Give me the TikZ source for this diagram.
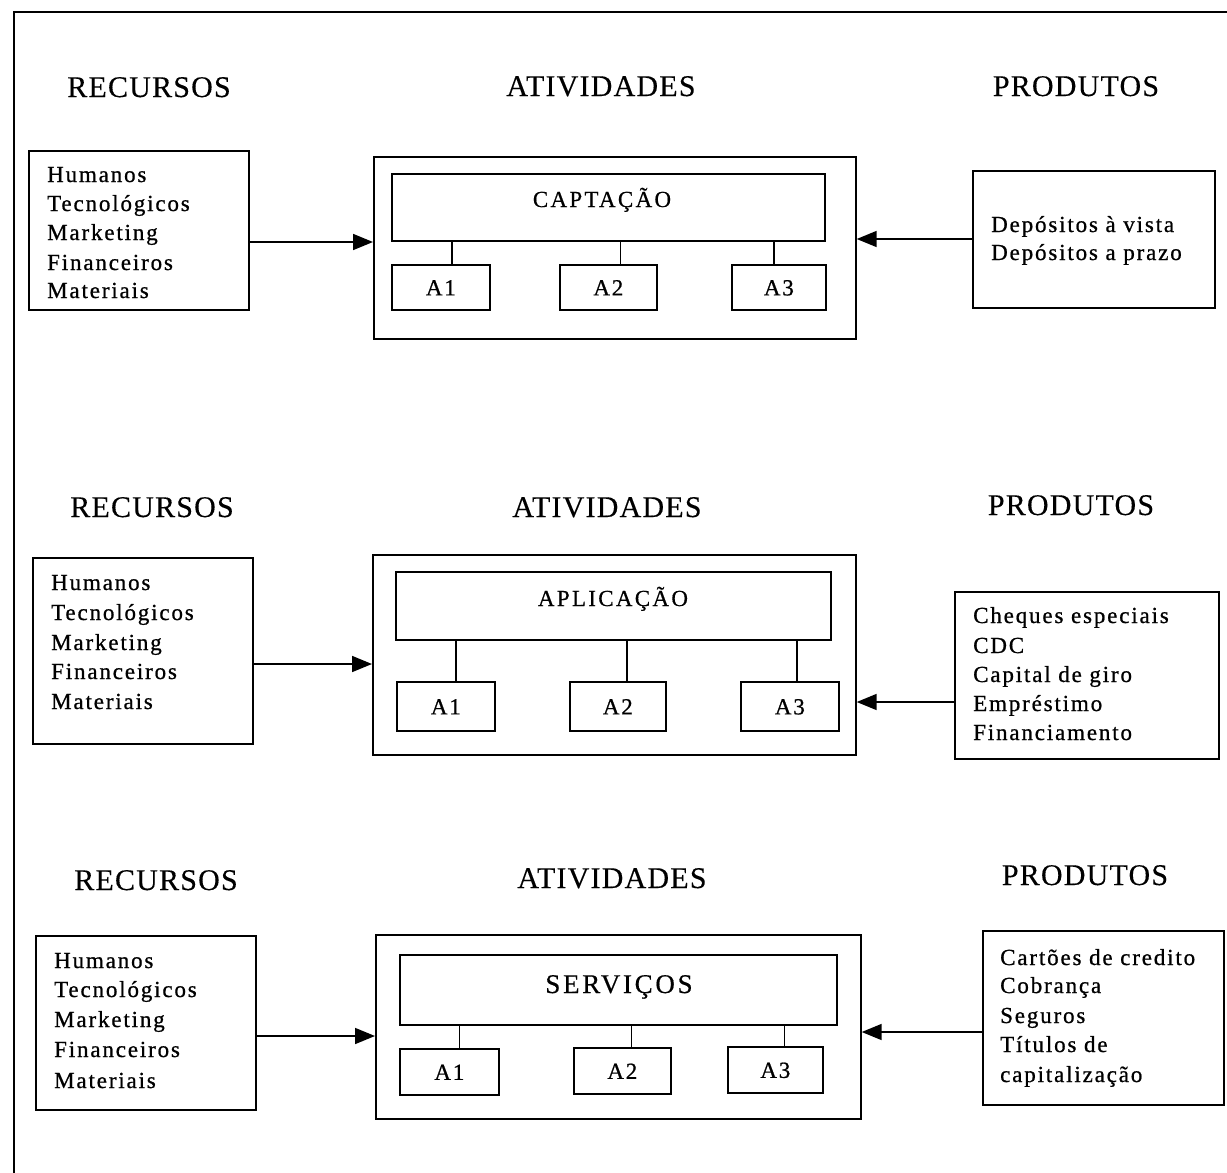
\documentclass[tikz,border=0pt]{standalone}
\usepackage{fontspec}
\setmainfont{Liberation Serif}
\newfontfamily\headfont[LetterSpace=4,FakeBold=0.3]{Liberation Serif}
\newfontfamily\bodyfont[LetterSpace=8,FakeBold=0.8]{Liberation Serif}
\newfontfamily\labfont[LetterSpace=10,FakeBold=0.5]{Liberation Serif}
\usetikzlibrary{arrows.meta,calc}
\tikzset{
  box/.style={draw, line width=1.7pt, rectangle, inner sep=0pt, anchor=north west},
  head/.style={inner sep=0pt, anchor=base, font=\headfont\fontsize{30}{34}\selectfont},
  body/.style={inner sep=0pt, anchor=base west, font=\bodyfont\fontsize{23}{29}\selectfont},
  lab/.style={inner sep=0pt, anchor=base, font=\labfont\fontsize{23}{29}\selectfont},
  svc/.style={inner sep=0pt, anchor=base, font=\labfont\fontsize{27}{32}\selectfont},
  alab/.style={inner sep=0pt, anchor=base, font=\bodyfont\fontsize{23}{29}\selectfont},
  arr/.style={line width=1.7pt, -{Triangle[length=20pt,width=16pt]}},
  tick/.style={line width=1.3pt}
}
\newcommand{\bx}[5]{\node[box, minimum width=#4pt-#2pt, minimum height=#5pt-#3pt] (#1) at (#2,#3) {};}
\begin{document}
\begin{tikzpicture}[x=1pt,y=-1pt]
\useasboundingbox (0,0) rectangle (1227,1173);
% outer frame
\coordinate (fa) at (14,1173);
\coordinate (fb) at (14,12);
\coordinate (fc) at (1227,12);
\draw[line width=2pt] (fa) -- (fb) -- (fc);

% ---------------- Section 1 ----------------
\node[head] (h11) at (149,97) {RECURSOS};
\node[head] (h12) at (601,96) {ATIVIDADES};
\node[head] (h13) at (1076,96) {PRODUTOS};
\bx{r1}{28}{150}{248}{309}
\node[body] (t11) at (47,182) {Humanos};
\node[body] (t12) at (47,211) {Tecnológicos};
\node[body] (t13) at (47,240) {Marketing};
\node[body] (t14) at (47,270) {Financeiros};
\node[body] (t15) at (47,298) {Materiais};
\bx{act1}{373}{156}{855}{338}
\bx{in1}{391}{173}{824}{240}
\node[lab] (l1) at (602,207) {CAPTAÇÃO};
\bx{a11}{391}{264}{489}{309}
\bx{a12}{559}{264}{656}{309}
\bx{a13}{731}{264}{825}{309}
\node[alab] at (a11) {\raisebox{-8pt}{A1}};
\node[alab] at (a12) {\raisebox{-8pt}{A2}};
\node[alab] at (a13) {\raisebox{-8pt}{A3}};
\draw[tick] ([xshift=11pt]a11.north) -- ([xshift=11pt]a11.north |- in1.south);
\draw[tick] ([xshift=12pt]a12.north) -- ([xshift=12pt]a12.north |- in1.south);
\draw[tick] ([xshift=-5pt]a13.north) -- ([xshift=-5pt]a13.north |- in1.south);
\bx{p1}{972}{170}{1214}{307}
\node[body] (u11) at (991,232) {Depósitos à vista};
\node[body] (u12) at (991,260) {Depósitos a prazo};
\draw[arr] (r1.east |- 0,242) -- (act1.west |- 0,242);
\draw[arr] (p1.west |- 0,239) -- (act1.east |- 0,239);

% ---------------- Section 2 ----------------
\node[head] (h21) at (152,517) {RECURSOS};
\node[head] (h22) at (607,517) {ATIVIDADES};
\node[head] (h23) at (1071,515) {PRODUTOS};
\bx{r2}{32}{557}{252}{743}
\node[body] (t21) at (51,590) {Humanos};
\node[body] (t22) at (51,620) {Tecnológicos};
\node[body] (t23) at (51,650) {Marketing};
\node[body] (t24) at (51,679) {Financeiros};
\node[body] (t25) at (51,709) {Materiais};
\bx{act2}{372}{554}{855}{754}
\bx{in2}{395}{571}{830}{639}
\node[lab] (l2) at (613,606) {APLICAÇÃO};
\bx{a21}{396}{681}{494}{730}
\bx{a22}{569}{681}{665}{730}
\bx{a23}{740}{681}{838}{730}
\node[alab] at (a21) {\raisebox{-8pt}{A1}};
\node[alab] at (a22) {\raisebox{-8pt}{A2}};
\node[alab] at (a23) {\raisebox{-8pt}{A3}};
\draw[tick] ([xshift=10pt]a21.north) -- ([xshift=10pt]a21.north |- in2.south);
\draw[tick] ([xshift=9pt]a22.north) -- ([xshift=9pt]a22.north |- in2.south);
\draw[tick] ([xshift=7pt]a23.north) -- ([xshift=7pt]a23.north |- in2.south);
\bx{p2}{954}{591}{1218}{758}
\node[body] (u21) at (973,623) {Cheques especiais};
\node[body] (u22) at (973,653) {CDC};
\node[body] (u23) at (973,682) {Capital de giro};
\node[body] (u24) at (973,711) {Empréstimo};
\node[body] (u25) at (973,740) {Financiamento};
\draw[arr] (r2.east |- 0,664) -- (act2.west |- 0,664);
\draw[arr] (p2.west |- 0,702) -- (act2.east |- 0,702);

% ---------------- Section 3 ----------------
\node[head] (h31) at (156,890) {RECURSOS};
\node[head] (h32) at (612,888) {ATIVIDADES};
\node[head] (h33) at (1085,885) {PRODUTOS};
\bx{r3}{35}{935}{255}{1109}
\node[body] (t31) at (54,968) {Humanos};
\node[body] (t32) at (54,997) {Tecnológicos};
\node[body] (t33) at (54,1027) {Marketing};
\node[body] (t34) at (54,1057) {Financeiros};
\node[body] (t35) at (54,1088) {Materiais};
\bx{act3}{375}{934}{860}{1118}
\bx{in3}{399}{954}{836}{1024}
\node[svc] (l3) at (619,993) {SERVIÇOS};
\bx{a31}{399}{1048}{498}{1094}
\bx{a32}{573}{1047}{670}{1093}
\bx{a33}{727}{1046}{822}{1092}
\node[alab] at (a31) {\raisebox{-8pt}{A1}};
\node[alab] at (a32) {\raisebox{-8pt}{A2}};
\node[alab] at (a33) {\raisebox{-8pt}{A3}};
\draw[tick] ([xshift=10pt]a31.north) -- ([xshift=10pt]a31.north |- in3.south);
\draw[tick] ([xshift=9pt]a32.north) -- ([xshift=9pt]a32.north |- in3.south);
\draw[tick] ([xshift=9pt]a33.north) -- ([xshift=9pt]a33.north |- in3.south);
\bx{p3}{982}{930}{1223}{1104}
\node[body] (u31) at (1000,965) {Cartões de credito};
\node[body] (u32) at (1000,993) {Cobrança};
\node[body] (u33) at (1000,1023) {Seguros};
\node[body] (u34) at (1000,1052) {Títulos de};
\node[body] (u35) at (1000,1082) {capitalização};
\draw[arr] (r3.east |- 0,1036) -- (act3.west |- 0,1036);
\draw[arr] (p3.west |- 0,1032) -- (act3.east |- 0,1032);
\end{tikzpicture}
\end{document}
